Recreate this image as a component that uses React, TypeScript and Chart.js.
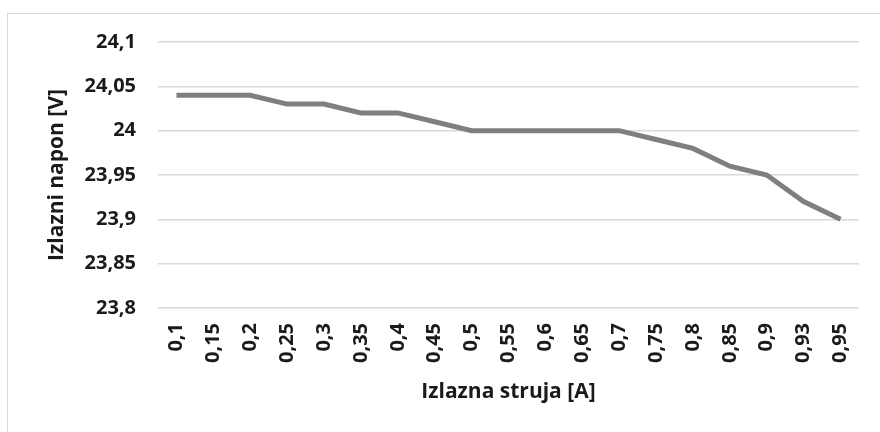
import React, { useEffect, useRef } from "react";
import { Chart, registerables } from "chart.js";

Chart.register(...registerables);

const categories = ["0,1", "0,15", "0,2", "0,25", "0,3", "0,35", "0,4", "0,45", "0,5", "0,55", "0,6", "0,65", "0,7", "0,75", "0,8", "0,85", "0,9", "0,93", "0,95"];
const voltage = [24.04, 24.04, 24.04, 24.03, 24.03, 24.02, 24.02, 24.01, 24.0, 24.0, 24.0, 24.0, 24.0, 23.99, 23.98, 23.96, 23.95, 23.92, 23.9];
const yMin = 23.8;
const yMax = 24.1;
const yStep = 0.05;
const xTitle = "Izlazna struja [A]";
const yTitle = "Izlazni napon [V]";

const FONT = "'Open Sans', sans-serif";
const TEXT = "#1a1a1a";

export default function App() {
  const ref = useRef<HTMLCanvasElement | null>(null);
  useEffect(() => {
    if (!ref.current) return;
    const chart = new Chart(ref.current, {
      type: "line",
      data: {
        labels: categories,
        datasets: [
          {
            data: voltage,
            borderColor: "#7f7f7f",
            borderWidth: 5,
            pointRadius: 0,
            tension: 0,
            fill: false,
          },
        ],
      },
      options: {
        animation: false,
        responsive: false,
        layout: { padding: { top: 42, right: 18, left: 0, bottom: 0 } },
        plugins: { legend: { display: false }, tooltip: { enabled: false } },
        scales: {
          x: {
            offset: true,
            grid: { display: false, drawTicks: false },
            border: { display: false },
            ticks: {
              autoSkip: false,
              maxRotation: 90,
              minRotation: 90,
              padding: 15,
              color: TEXT,
              font: { family: FONT, size: 20, weight: "bold" },
            },
            title: {
              display: true,
              text: xTitle,
              color: TEXT,
              font: { family: FONT, size: 21, weight: "bold" },
              padding: { top: 0, bottom: 27 },
            },
            afterFit: (s: any) => {
              s.height = 124;
            },
          },
          y: {
            min: yMin,
            max: yMax,
            grid: { color: "#d9d9d9", lineWidth: 1.5, drawTicks: false },
            border: { display: false },
            ticks: {
              stepSize: yStep,
              padding: 22,
              color: TEXT,
              font: { family: FONT, size: 20, weight: "bold" },
              callback: (v: any) => String(Math.round(Number(v) * 100) / 100).replace(".", ","),
            },
            title: {
              display: true,
              text: yTitle,
              color: TEXT,
              font: { family: FONT, size: 21, weight: "bold" },
              padding: { top: 44, bottom: 0 },
            },
            afterFit: (s: any) => {
              s.width = 158;
            },
          },
        },
      },
    });
    return () => chart.destroy();
  }, []);
  return (
    <div style={{ position: "fixed", left: 0, top: 0, width: 880, height: 432, background: "#fff" }}>
      <div
        style={{
          position: "absolute",
          left: 7,
          top: 13,
          width: 880,
          height: 440,
          border: "1px solid #d9d9d9",
          boxSizing: "border-box",
        }}
      />
      <canvas ref={ref} width={880} height={432} style={{ position: "absolute", left: 0, top: 0 }} />
    </div>
  );
}
